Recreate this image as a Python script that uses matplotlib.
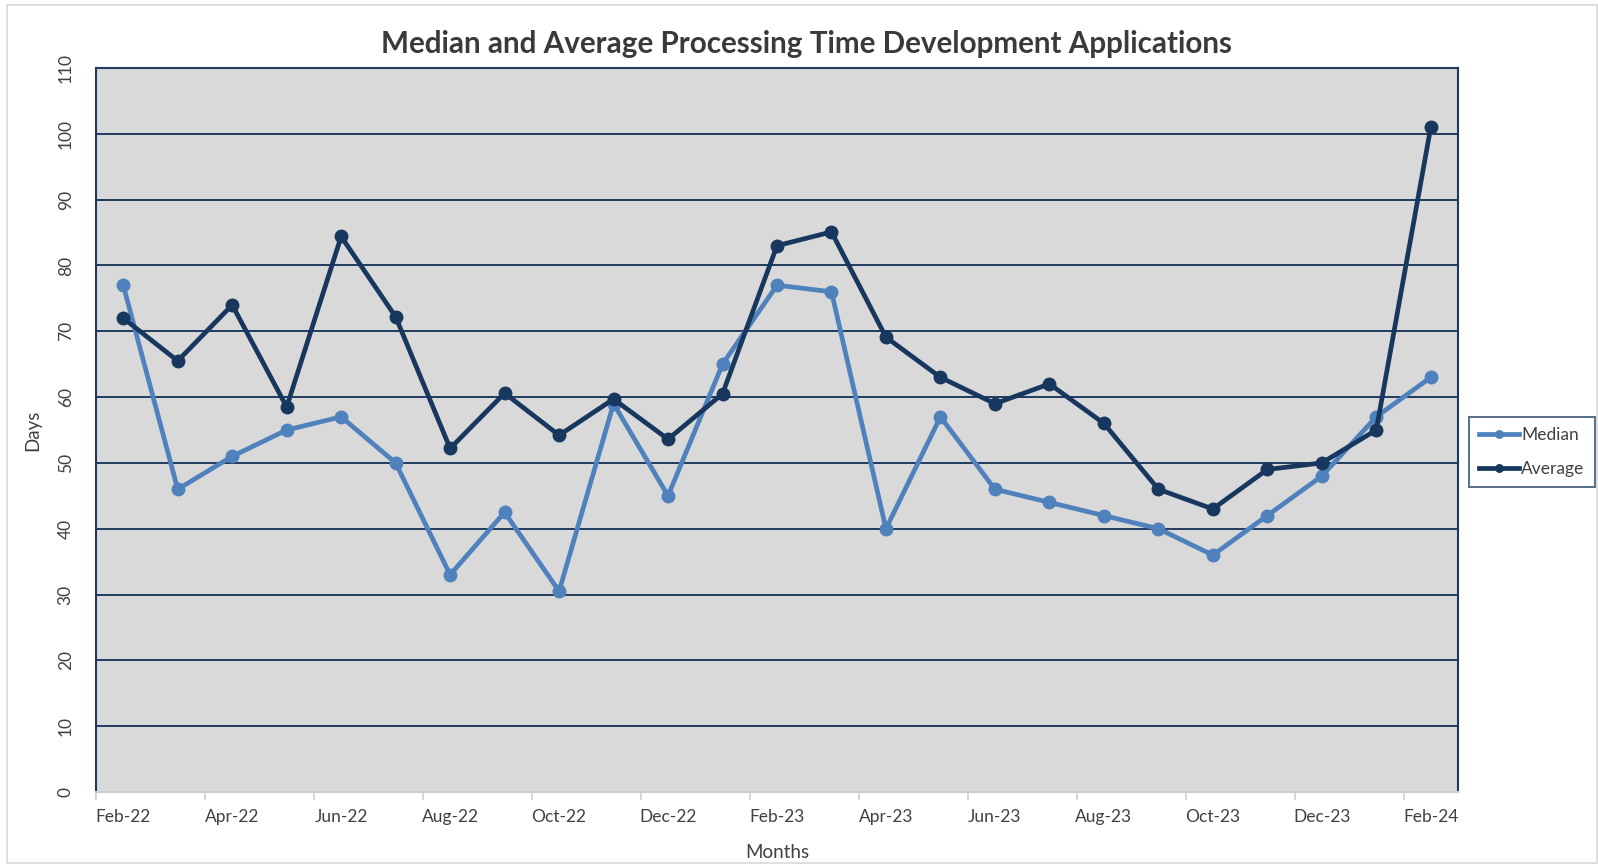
import numpy as np
import matplotlib
matplotlib.use("Agg")
import matplotlib.pyplot as plt
from matplotlib.patches import Rectangle

plt.rcParams['font.family'] = ['Lato', 'DejaVu Sans']

months = ["Feb-22", "Mar-22", "Apr-22", "May-22", "Jun-22", "Jul-22", "Aug-22",
          "Sep-22", "Oct-22", "Nov-22", "Dec-22", "Jan-23", "Feb-23", "Mar-23",
          "Apr-23", "May-23", "Jun-23", "Jul-23", "Aug-23", "Sep-23", "Oct-23",
          "Nov-23", "Dec-23", "Jan-24", "Feb-24"]
median = [77, 46, 51, 55, 57, 50, 33, 42.5, 30.5, 59, 45, 65, 77, 76,
          40, 57, 46, 44, 42, 40, 36, 42, 48, 57, 63]
average = [72, 65.5, 74, 58.5, 84.4, 72.2, 52.2, 60.6, 54.2, 59.7, 53.6, 60.5, 83, 85.1,
           69.1, 63, 59, 62, 56, 46, 43, 49, 50, 55, 101]
yticks = list(range(0, 111, 10))

W, H = 1598, 867
fig = plt.figure(figsize=(W / 100, H / 100), dpi=100)
fig.patches.append(Rectangle((7 / W, 4 / H), (W - 8) / W, (H - 9) / H,
                             transform=fig.transFigure, fill=False,
                             edgecolor="#d9d9d9", lw=1.2))

ax = fig.add_axes([96 / W, 1 - 792 / H, (1458 - 96) / W, (792 - 68) / H])
ax.set_facecolor("#d9d9d9")

navy = "#17375e"
blue = "#4f81bd"
x = np.arange(len(months))

for v in yticks[1:-1]:
    ax.axhline(v, color="#1f3b5e", lw=1.4, zorder=1)

ax.plot(x, median, color=blue, lw=3.4, marker="o", ms=9, label="Median", zorder=3)
ax.plot(x, average, color=navy, lw=3.4, marker="o", ms=9, label="Average", zorder=4)

ax.set_xlim(-0.5, len(months) - 0.5)
ax.set_ylim(0, 110)
ax.set_xticks(x[::2])
ax.set_xticklabels(months[::2])
ax.set_xticks(np.arange(-0.5, len(months) - 1, 2), minor=True)
ax.tick_params(axis="x", which="major", length=0, pad=12, labelsize=12.5, labelcolor="#404040")
ax.tick_params(axis="x", which="minor", length=6, width=1.2, color="#d0d0d0")
ax.set_yticks(yticks)
ax.tick_params(axis="y", length=0, pad=16, labelsize=12.5, labelcolor="#404040",
               labelrotation=90)
for lab in ax.get_yticklabels():
    lab.set_verticalalignment("center")

for side in ["left", "right", "top"]:
    ax.spines[side].set_color("#1f3b5e")
    ax.spines[side].set_linewidth(1.5)
ax.spines["bottom"].set_color("#c8cdd4")
ax.spines["bottom"].set_linewidth(1.5)

ax.set_xlabel("Months", fontsize=13.5, color="#404040", labelpad=14)
ax.set_ylabel("Days", fontsize=13.5, color="#404040", labelpad=12)

fig.text(0.505, 1 - 44 / H, "Median and Average Processing Time Development Applications",
         ha="center", va="center", fontsize=21.3, fontweight="bold", color="#3a3a3a")

leg = fig.legend(loc="center left", bbox_to_anchor=(1469 / W, 1 - 452 / H),
                 borderaxespad=0, fancybox=False, edgecolor="#1f3b5e", fontsize=12.5,
                 handlelength=2.3, handletextpad=0.1, borderpad=0.6,
                 labelspacing=1.0, markerscale=0.6)
leg.get_frame().set_linewidth(1.3)
for t in leg.get_texts():
    t.set_color("#404040")

fig.savefig("out.png", dpi=100)
